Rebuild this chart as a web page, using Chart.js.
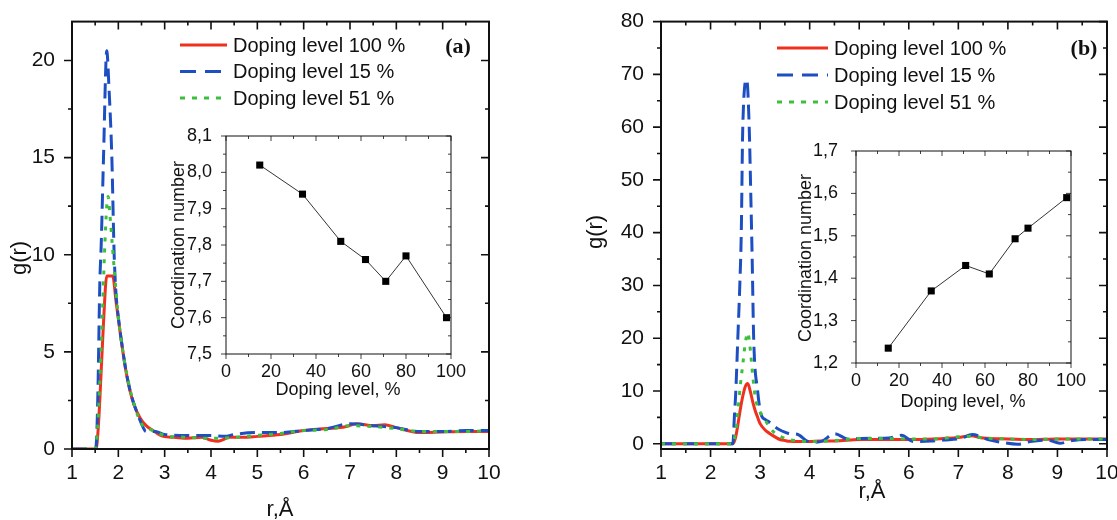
<!DOCTYPE html>
<html lang="en">
<head>
<meta charset="UTF-8">
<title>g(r) and coordination number</title>
<script src="https://cdn.jsdelivr.net/npm/chart.js"></script>
<style>
  body { margin: 0; width: 1117px; height: 520px; overflow: hidden; background: #fff; position: relative; }
  canvas { position: absolute; }
</style>
</head>
<body>
<canvas id="mainA" width="557" height="520" style="left:0;top:0"></canvas>
<canvas id="mainB" width="580" height="520" style="left:557px;top:0"></canvas>
<canvas id="insetA" width="320" height="300" style="left:150px;top:110px"></canvas>
<canvas id="insetB" width="310" height="290" style="left:780px;top:130px"></canvas>

<script>
// ---- panel (a): g(r) curves ----
const rA_red   = [1.0, 1.52, 1.57, 1.62, 1.68, 1.75, 1.88, 1.95, 2.04, 2.15, 2.25, 2.35, 2.47, 2.6, 2.75, 2.97, 3.2, 3.5, 3.8, 4.0, 4.15, 4.4, 4.7, 5.0, 5.5, 6.0, 6.5, 6.9, 7.15, 7.5, 7.75, 8.0, 8.5, 9.0, 9.5, 10.0];
const gA_red   = [0, 0, 1.2, 3.5, 6.5, 8.9, 8.9, 7.6, 6.0, 4.2, 3.0, 2.2, 1.6, 1.2, 0.95, 0.65, 0.6, 0.55, 0.6, 0.45, 0.4, 0.6, 0.6, 0.65, 0.75, 0.95, 1.05, 1.15, 1.3, 1.2, 1.25, 1.1, 0.85, 0.88, 0.9, 0.9];
const rA_blue  = [1.0, 1.5, 1.53, 1.56, 1.6, 1.63, 1.68, 1.75, 1.8, 1.86, 1.91, 1.95, 2.0, 2.1, 2.2, 2.3, 2.4, 2.5, 2.6, 2.8, 3.0, 3.5, 4.0, 4.3, 4.5, 5.0, 5.5, 6.0, 6.5, 7.0, 7.5, 8.0, 8.5, 9.0, 9.5, 10.0];
const gA_blue  = [0, 0, 0.5, 3, 8.5, 10.5, 15, 20.5, 18.5, 15, 10, 8, 6.8, 5.0, 3.6, 2.6, 1.9, 1.3, 0.9, 0.9, 0.75, 0.7, 0.7, 0.65, 0.75, 0.85, 0.85, 0.95, 1.05, 1.3, 1.2, 1.1, 0.9, 0.9, 0.95, 0.95];
const rA_green = [1.0, 1.5, 1.55, 1.6, 1.65, 1.7, 1.75, 1.78, 1.82, 1.87, 1.92, 2.0, 2.1, 2.25, 2.5, 2.7, 3.0, 3.5, 4.0, 4.5, 5.0, 5.5, 6.0, 6.5, 7.0, 7.5, 8.0, 8.5, 9.0, 9.5, 10.0];
const gA_green = [0, 0, 1, 3.5, 6.5, 10, 12.5, 13, 12, 10.5, 9, 6.8, 5.0, 3.1, 1.3, 1.0, 0.7, 0.6, 0.55, 0.6, 0.7, 0.8, 0.95, 1.0, 1.2, 1.15, 1.05, 0.9, 0.9, 0.9, 0.95];

// ---- panel (b): g(r) curves ----
const rB_red   = [1.0, 2.45, 2.5, 2.55, 2.6, 2.65, 2.7, 2.75, 2.8, 2.85, 2.9, 2.95, 3.0, 3.1, 3.2, 3.3, 3.4, 3.5, 3.6, 3.8, 4.0, 4.2, 4.5, 5.0, 5.5, 6.0, 6.5, 7.0, 7.25, 7.5, 8.0, 8.5, 9.0, 9.5, 10.0];
const gB_red   = [0, 0, 1, 3.5, 6.5, 9, 10.8, 11.4, 10, 8, 6.3, 5, 3.8, 2.6, 1.9, 1.3, 0.8, 0.6, 0.45, 0.4, 0.4, 0.5, 0.5, 0.8, 0.8, 0.8, 0.9, 1.2, 1.5, 1.1, 0.9, 0.8, 0.9, 0.9, 0.9];
const rB_blue  = [1.0, 2.45, 2.48, 2.51, 2.55, 2.59, 2.62, 2.65, 2.73, 2.78, 2.81, 2.84, 2.87, 2.95, 3.02, 3.1, 3.2, 3.3, 3.4, 3.5, 3.6, 3.75, 3.95, 4.1, 4.25, 4.5, 4.8, 5.0, 5.3, 5.6, 5.85, 6.1, 6.45, 6.7, 7.05, 7.28, 7.6, 7.85, 8.2, 8.45, 8.8, 9.05, 9.3, 9.6, 10.0];
const gB_blue  = [0, 0, 5, 10, 20, 30, 40, 60, 69, 60, 48, 35, 20, 10, 5.5, 4.6, 4.0, 3.2, 2.6, 2.2, 1.9, 1.8, 0.5, 0.3, 0.5, 1.9, 0.8, 1.0, 1.05, 1.1, 1.6, 0.4, 0.5, 0.7, 1.0, 1.75, 0.8, 0.3, -0.1, 0.4, 0.7, 0.1, 0.6, 0.8, 0.8];
const rB_green = [1.0, 2.45, 2.5, 2.55, 2.6, 2.65, 2.7, 2.75, 2.8, 2.85, 2.9, 2.95, 3.0, 3.1, 3.2, 3.3, 3.5, 3.7, 4.0, 4.5, 5.0, 5.5, 6.0, 6.5, 7.0, 7.25, 7.5, 8.0, 8.5, 9.0, 9.5, 10.0];
const gB_green = [0, 0, 2, 6, 11, 15, 19, 21, 18, 13, 9, 7, 6, 4.5, 3, 2, 1, 0.6, 0.4, 0.6, 1.0, 1.0, 0.9, 0.9, 1.3, 1.4, 1.1, 0.9, 0.8, 0.9, 0.9, 0.9];

// ---- insets: coordination number vs doping level ----
const dopingA = [15, 34, 51, 62, 71, 80, 98];
const coordA  = [8.02, 7.94, 7.81, 7.76, 7.70, 7.77, 7.60];
const dopingB = [15, 35, 51, 62, 74, 80, 98];
const coordB  = [1.235, 1.37, 1.43, 1.41, 1.493, 1.518, 1.59];

// ---- tick labels ----
const rTicks      = [1, 2, 3, 4, 5, 6, 7, 8, 9, 10];
const gTicksA     = [0, 5, 10, 15, 20];
const gTicksB     = [0, 10, 20, 30, 40, 50, 60, 70, 80];
const dopingTicks = [0, 20, 40, 60, 80, 100];
const coordTicksA = [7.5, 7.6, 7.7, 7.8, 7.9, 8.0, 8.1];
const coordTicksB = [1.2, 1.3, 1.4, 1.5, 1.6, 1.7];

const seriesLabels = ['Doping level 100 %', 'Doping level 15 %', 'Doping level 51 %'];

const FONT = '"Liberation Sans", Arial, sans-serif';
const RED = '#f0301e', BLUE = '#1d4fc2', GREEN = '#3dbf3d';

const toXY = (xs, ys) => xs.map((v, i) => ({ x: v, y: ys[i] }));

// frame around the plot + major/minor ticks on all four sides
function frameTicks(xMinor, yMinor, major, minor, lw) {
    return {
        id: 'frameTicks',
        afterDatasetsDraw(chart) {
            const { ctx, chartArea: a, scales } = chart;
            ctx.save();
            ctx.strokeStyle = '#111';
            ctx.lineWidth = lw;
            ctx.strokeRect(a.left, a.top, a.right - a.left, a.bottom - a.top);
            ctx.lineWidth = lw * 0.8;
            const each = (scale, step, fn) => {
                const majors = scale.ticks.map(t => t.value);
                for (let i = Math.ceil(scale.min / step - 1e-6); i * step <= scale.max + 1e-6; i++) {
                    const v = i * step;
                    const isMajor = majors.some(m => Math.abs(m - v) < step / 10);
                    fn(scale.getPixelForValue(v), isMajor ? major : minor);
                }
            };
            ctx.beginPath();
            each(scales.x, xMinor, (px, len) => {
                ctx.moveTo(px, a.bottom); ctx.lineTo(px, a.bottom + len);
                ctx.moveTo(px, a.top); ctx.lineTo(px, a.top + len);
            });
            each(scales.y, yMinor, (py, len) => {
                ctx.moveTo(a.left - len, py); ctx.lineTo(a.left, py);
                ctx.moveTo(a.right - len, py); ctx.lineTo(a.right, py);
            });
            ctx.stroke();
            ctx.restore();
        }
    };
}

// free text (axis titles, panel letter) and the line legend
function annot(texts, legend) {
    return {
        id: 'annot',
        afterDraw(chart) {
            const ctx = chart.ctx;
            ctx.save();
            ctx.fillStyle = '#111';
            ctx.textBaseline = 'middle';
            texts.forEach(t => {
                ctx.save();
                ctx.font = t.font;
                ctx.textAlign = 'center';
                ctx.translate(t.x, t.y);
                if (t.rot) ctx.rotate(-Math.PI / 2);
                ctx.fillText(t.text, 0, 0);
                ctx.restore();
            });
            if (legend) {
                chart.data.datasets.forEach((ds, i) => {
                    const y = legend.y + i * legend.gap;
                    ctx.save();
                    ctx.strokeStyle = ds.borderColor;
                    ctx.lineWidth = ds.borderWidth;
                    ctx.setLineDash(ds.legendDash || []);
                    ctx.beginPath();
                    ctx.moveTo(legend.x, y);
                    ctx.lineTo(legend.x + legend.len, y);
                    ctx.stroke();
                    ctx.restore();
                    ctx.font = legend.font;
                    ctx.textAlign = 'left';
                    ctx.fillText(ds.label, legend.x + legend.len + 6, y + 1);
                });
            }
            ctx.restore();
        }
    };
}

function curveSets(red, blue, green) {
    const base = { pointRadius: 0, borderWidth: 3, cubicInterpolationMode: 'monotone', fill: false };
    return [
        { ...base, label: seriesLabels[0], data: red, borderColor: RED, order: 3 },
        { ...base, label: seriesLabels[1], data: blue, borderColor: BLUE, borderDash: [15, 7], legendDash: [16, 9], order: 2 },
        { ...base, label: seriesLabels[2], data: green, borderColor: GREEN, borderDash: [4, 7], legendDash: [5, 7], order: 1 }
    ];
}

function axis(o) {
    return {
        type: 'linear', min: o.min, max: o.max, bounds: 'data',
        grid: { display: false }, border: { display: false },
        ticks: {
            padding: o.pad, maxRotation: 0, autoSkip: false,
            color: '#111', font: { family: FONT, size: o.size },
            callback: o.fmt || (v => String(v))
        },
        afterBuildTicks: s => { s.ticks = o.ticks.map(v => ({ value: v })); },
        afterFit: s => { if (o.w) s.width = o.w; if (o.h) s.height = o.h; }
    };
}

function mainChart(id, sets, o) {
    return new Chart(document.getElementById(id), {
        type: 'line',
        data: { datasets: sets },
        options: {
            responsive: false, animation: false, devicePixelRatio: 1, events: [],
            layout: { padding: o.padding },
            plugins: { legend: { display: false }, tooltip: { enabled: false } },
            scales: {
                x: axis({ min: 1, max: 10, ticks: rTicks, pad: 4, size: 21, h: o.xH }),
                y: axis({ min: o.yMin, max: o.yMax, ticks: o.yTicks, pad: 9, size: 21, w: o.yW })
            }
        },
        plugins: [frameTicks(0.5, o.yMinor, 8, 4, 2), annot(o.texts, o.legend)]
    });
}

function insetChart(id, xs, ys, o) {
    const comma = v => v.toFixed(1).replace('.', ',');
    return new Chart(document.getElementById(id), {
        type: 'line',
        data: {
            datasets: [{
                data: toXY(xs, ys), borderColor: '#333', borderWidth: 1, tension: 0,
                pointStyle: 'rect', pointRadius: 5, pointBackgroundColor: '#000', pointBorderWidth: 0
            }]
        },
        options: {
            responsive: false, animation: false, devicePixelRatio: 1, events: [],
            layout: { padding: o.padding },
            plugins: { legend: { display: false }, tooltip: { enabled: false } },
            scales: {
                x: axis({ min: 0, max: 100, ticks: dopingTicks, pad: -1, size: 18, h: o.xH }),
                y: axis({ min: o.yMin, max: o.yMax, ticks: o.yTicks, pad: o.yPad, size: 18, w: o.yW, fmt: comma })
            }
        },
        plugins: [frameTicks(10, 0.05, 5, 3, 1), annot(o.texts)]
    });
}

mainChart('mainA', curveSets(toXY(rA_red, gA_red), toXY(rA_blue, gA_blue), toXY(rA_green, gA_green)), {
    padding: { left: 0, top: 15, right: 68, bottom: 0 }, xH: 71, yW: 72,
    yMin: 0, yMax: 22, yTicks: gTicksA, yMinor: 2.5,
    texts: [
        { text: 'g(r)', x: 20, y: 258, rot: true, font: '22px ' + FONT },
        { text: 'r,Å', x: 280, y: 510, font: '22px ' + FONT },
        { text: '(a)', x: 458, y: 47, font: 'bold 22px "Liberation Serif", serif' }
    ],
    legend: { x: 180, y: 45, gap: 26.5, len: 47, font: '20px ' + FONT }
});

mainChart('mainB', curveSets(toXY(rB_red, gB_red), toXY(rB_blue, gB_blue), toXY(rB_green, gB_green)), {
    padding: { left: 0, top: 15, right: 30, bottom: 0 }, xH: 71, yW: 104,
    yMin: -1, yMax: 80, yTicks: gTicksB, yMinor: 5,
    texts: [
        { text: 'g(r)', x: 39, y: 232, rot: true, font: '22px ' + FONT },
        { text: 'r,Å', x: 315, y: 492, font: '22px ' + FONT },
        { text: '(b)', x: 527, y: 49, font: 'bold 22px "Liberation Serif", serif' }
    ],
    legend: { x: 220, y: 48, gap: 27, len: 51, font: '20px ' + FONT }
});

insetChart('insetA', dopingA, coordA, {
    padding: { left: 0, top: 26, right: 19, bottom: 0 }, xH: 56, yW: 76, yPad: 6,
    yMin: 7.5, yMax: 8.1, yTicks: coordTicksA,
    texts: [
        { text: 'Coordination number', x: 29, y: 135, rot: true, font: '18px ' + FONT },
        { text: 'Doping level, %', x: 188, y: 280, font: '18px ' + FONT }
    ]
});

insetChart('insetB', dopingB, coordB, {
    padding: { left: 0, top: 21, right: 19, bottom: 0 }, xH: 57, yW: 76, yPad: 10,
    yMin: 1.2, yMax: 1.7, yTicks: coordTicksB,
    texts: [
        { text: 'Coordination number', x: 26, y: 128, rot: true, font: '18px ' + FONT },
        { text: 'Doping level, %', x: 183, y: 272, font: '18px ' + FONT }
    ]
});
</script>
</body>
</html>
